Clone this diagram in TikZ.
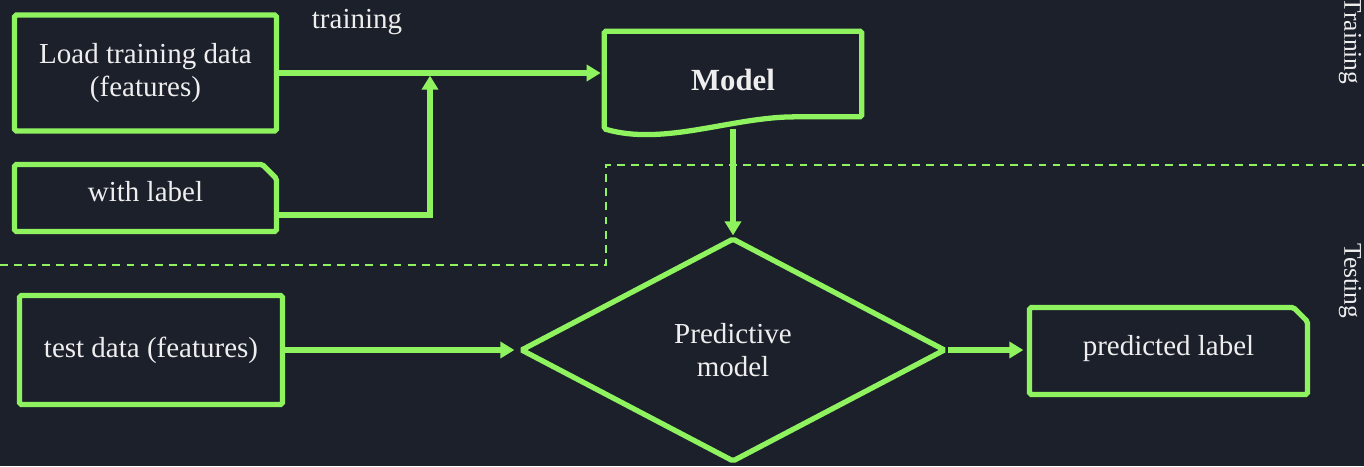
\documentclass[tikz,border=0pt]{standalone}
\usepackage{fontspec}
\setmainfont{Liberation Serif}
\newfontfamily\serfont{Liberation Serif}
\usetikzlibrary{arrows.meta, positioning, shapes.misc, shapes.geometric}
\definecolor{clrBg}{HTML}{1C202B}
\definecolor{clrLn}{HTML}{8FF35F}
\definecolor{clrTxt}{HTML}{EEEEEE}

\begin{document}
\begin{tikzpicture}[
  x=0.02cm, y=-0.02cm,
  box/.style = {
    rectangle, rounded corners=1pt,
    draw=clrLn, line width=3pt, text=clrTxt,
    font=\serfont\fontsize{16.5}{19}\selectfont, inner sep=4pt, align=center
  },
  note/.style = {
    box, chamfered rectangle, chamfered rectangle corners=north east,
    chamfered rectangle xsep=0.14cm, chamfered rectangle ysep=0.14cm
  },
  dec/.style = {
    box, diamond, inner sep=0pt
  },
  txt/.style = {text=clrTxt, font=\serfont\fontsize{16.5}{19}\selectfont},
  side/.style = {text=clrTxt, font=\serfont\fontsize{14.5}{17}\selectfont, rotate=-90},
  arr/.style = {-{Triangle[length=0.28cm, width=0.32cm]}, line width=3pt, draw=clrLn},
  sep/.style = {draw=clrLn, line width=1.2pt, dash pattern=on 4.5pt off 3.5pt}
]
  \fill[clrBg] (0,0) rectangle (1364,466);
  \useasboundingbox (0,0) rectangle (1364,466);

  % split between the two phases
  \draw[sep] (0,265) -- (606,265) -- (606,165) -- (1364,165);

  \node[box, minimum width=5.24cm, minimum height=2.32cm] (load) at (145.5,73) {Load training data\\(features)};
  \node[note, minimum width=5.24cm, minimum height=1.34cm] (lbl) at (145.5,198) {\raisebox{7pt}{with label}};
  \node[box, minimum width=5.26cm, minimum height=2.18cm] (test) at (151,350) {test data (features)};
  \node[txt] (trn) at (357,22) {training};

  % model node, outline drawn by hand
  \node[txt, font=\serfont\fontsize{17.5}{20}\selectfont\bfseries, minimum width=5.14cm, minimum height=1.94cm,
        inner sep=0pt] (model) at (733,80) {Model};
  \draw[draw=clrLn, line width=3pt, rounded corners=1pt]
    (model.south west) -- (model.north west) -- (model.north east) -- ([yshift=2.4mm]model.south east)
    -- ++(-1.3cm,0) .. controls +(-1.3cm,0) and +(1.2cm,-0.35cm) .. (model.south west) -- cycle;

  \node[dec, minimum width=8.5cm, minimum height=4.48cm] (pred) at (733,350) {Predictive\\model};
  \node[note, minimum width=5.56cm, minimum height=1.74cm] (out) at (1168.5,351) {\raisebox{6pt}{predicted label}};

  \node[side] (sTrain) at (1350,41) {Training};
  \node[side] (sTest) at (1350,281) {Testing};

  \coordinate (jn) at (430,73);

  \draw[arr, shorten >=2pt] (load.east) -- (load.east -| model.west);
  \draw[arr, shorten >=1.5pt] ([yshift=-0.34cm]lbl.east) -| (jn);
  \draw[arr] (model.south) -- (pred.north);
  \draw[arr, shorten >=2pt] (test.east) -- (pred.west);
  \draw[arr, shorten >=2pt] (pred.east) -- (pred.east -| out.west);
\end{tikzpicture}
\end{document}
